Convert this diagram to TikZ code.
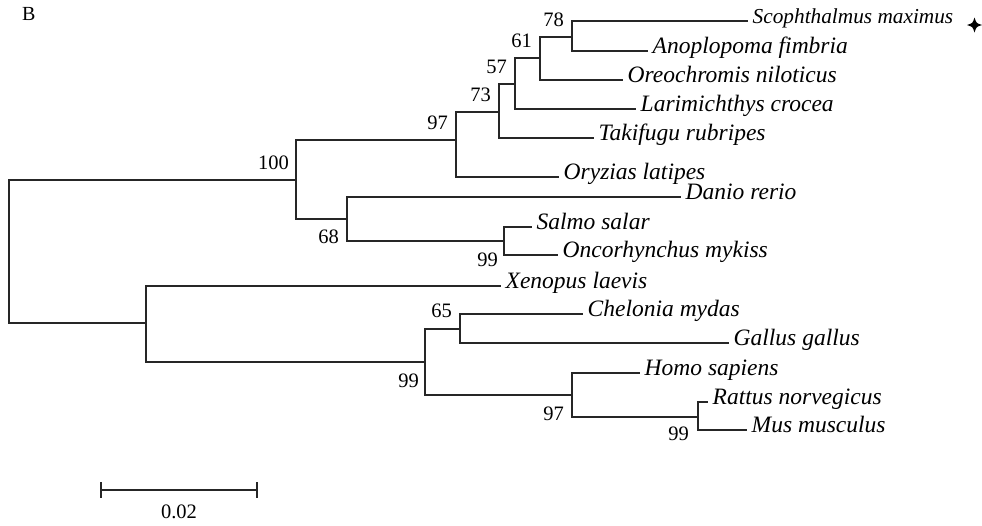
\documentclass[tikz,border=0pt]{standalone}
\usepackage{fontspec}
\setmainfont{Liberation Serif}
\usetikzlibrary{calc}
\begin{document}
\begin{tikzpicture}[x=1pt,y=-1pt,
  br/.style={line width=1.8pt, line cap=rect, black!85},
  leaf/.style={anchor=mid west, inner xsep=5.5pt, inner ysep=0pt, font=\fontsize{23.5}{26}\selectfont\itshape},
  bsu/.style={anchor=south east, inner sep=0pt, font=\fontsize{20.5}{24}\selectfont},
  bsl/.style={anchor=north east, inner sep=0pt, font=\fontsize{20.5}{24}\selectfont}]
\useasboundingbox (0,0) rectangle (982,525);
% panel letter
\node[font=\fontsize{20}{24}\selectfont, inner sep=0pt] (lab) at (28.7,14) {B};
% internal nodes
\coordinate (r) at (9,252);
\coordinate (n100) at (296,180);
\coordinate (n97) at (456,140);
\coordinate (n73) at (499,112);
\coordinate (n57) at (515,84);
\coordinate (n61) at (540,58);
\coordinate (n78) at (572,37);
\coordinate (n68) at (347,219);
\coordinate (nsal) at (504,241);
\coordinate (ntet) at (146,323);
\coordinate (n99) at (425,362);
\coordinate (n65) at (460,329);
\coordinate (nmam) at (572,395);
\coordinate (nrm) at (698,417);
% leaves
\node[leaf, font=\fontsize{21.3}{24}\selectfont\itshape] (scoph) at (747,21) {Scophthalmus maximus};
\node[leaf] (anop) at (647,51) {Anoplopoma fimbria};
\node[leaf] (oreo) at (622,80) {Oreochromis niloticus};
\node[leaf] (lari) at (635,109) {Larimichthys crocea};
\node[leaf] (taki) at (593,138) {Takifugu rubripes};
\node[leaf] (oryz) at (558,177) {Oryzias latipes};
\node[leaf] (danio) at (680,197) {Danio rerio};
\node[leaf] (salmo) at (531,227) {Salmo salar};
\node[leaf] (onco) at (557,255) {Oncorhynchus mykiss};
\node[leaf] (xeno) at (500,286) {Xenopus laevis};
\node[leaf] (chel) at (582,314) {Chelonia mydas};
\node[leaf] (gallus) at (728,343) {Gallus gallus};
\node[leaf] (homo) at (639,373) {Homo sapiens};
\node[leaf] (rattus) at (707,402) {Rattus norvegicus};
\node[leaf] (mus) at (746,430) {Mus musculus};
% branches between internal nodes
\foreach \a/\b in {r/n100, r/ntet, n100/n97, n100/n68, n97/n73, n73/n57, n57/n61,
  n61/n78, n68/nsal, ntet/n99, n99/n65, n99/nmam, nmam/nrm}
  \draw[br] (\a) |- (\b);
% branches to leaves
\foreach \a/\b in {n78/scoph, n78/anop, n61/oreo, n57/lari, n73/taki, n97/oryz,
  n68/danio, nsal/salmo, nsal/onco, ntet/xeno, n65/chel, n65/gallus,
  nmam/homo, nrm/rattus, nrm/mus}
  \draw[br] (\a) |- (\b.mid west);
% bootstrap values
\node[bsu] (b78) at ($(n78)+(-8,-10)$) {78};
\node[bsu] (b61) at ($(n61)+(-8,-10)$) {61};
\node[bsu] (b57) at ($(n57)+(-8,-10)$) {57};
\node[bsu] (b73) at ($(n73)+(-8,-10)$) {73};
\node[bsu] (b97) at ($(n97)+(-8,-10)$) {97};
\node[bsu] (b100) at ($(n100)+(-7,-10)$) {100};
\node[bsu] (b65) at ($(n65)+(-8,-11)$) {65};
\node[bsl] (b68) at ($(n68)+(-8,11)$) {68};
\node[bsl] (bsal) at ($(nsal)+(-6,12)$) {99};
\node[bsl] (b99) at ($(n99)+(-6,12)$) {99};
\node[bsl] (bmam) at ($(nmam)+(-8,12)$) {97};
\node[bsl] (brm) at ($(nrm)+(-9,10)$) {99};
% marker star
\coordinate (star) at (974.5,25);
\fill[black] ($(star)+(0,-7.5)$) .. controls ($(star)+(1.8,-1.8)$) .. ($(star)+(7.5,0)$)
  .. controls ($(star)+(1.8,1.8)$) .. ($(star)+(0,7.5)$)
  .. controls ($(star)+(-1.8,1.8)$) .. ($(star)+(-7.5,0)$)
  .. controls ($(star)+(-1.8,-1.8)$) .. ($(star)+(0,-7.5)$) -- cycle;
% scale bar
\coordinate (sa) at (101,490);
\coordinate (sb) at (257,490);
\draw[br] (sa) -- (sb);
\draw[br] ($(sa)+(0,-7.5)$) -- ($(sa)+(0,7.5)$);
\draw[br] ($(sb)+(0,-7.5)$) -- ($(sb)+(0,7.5)$);
\node[anchor=north, inner sep=0pt, font=\fontsize{20.5}{24}\selectfont] (sl) at ($(sa)!0.5!(sb)+(0,15)$) {0.02};
\end{tikzpicture}
\end{document}
